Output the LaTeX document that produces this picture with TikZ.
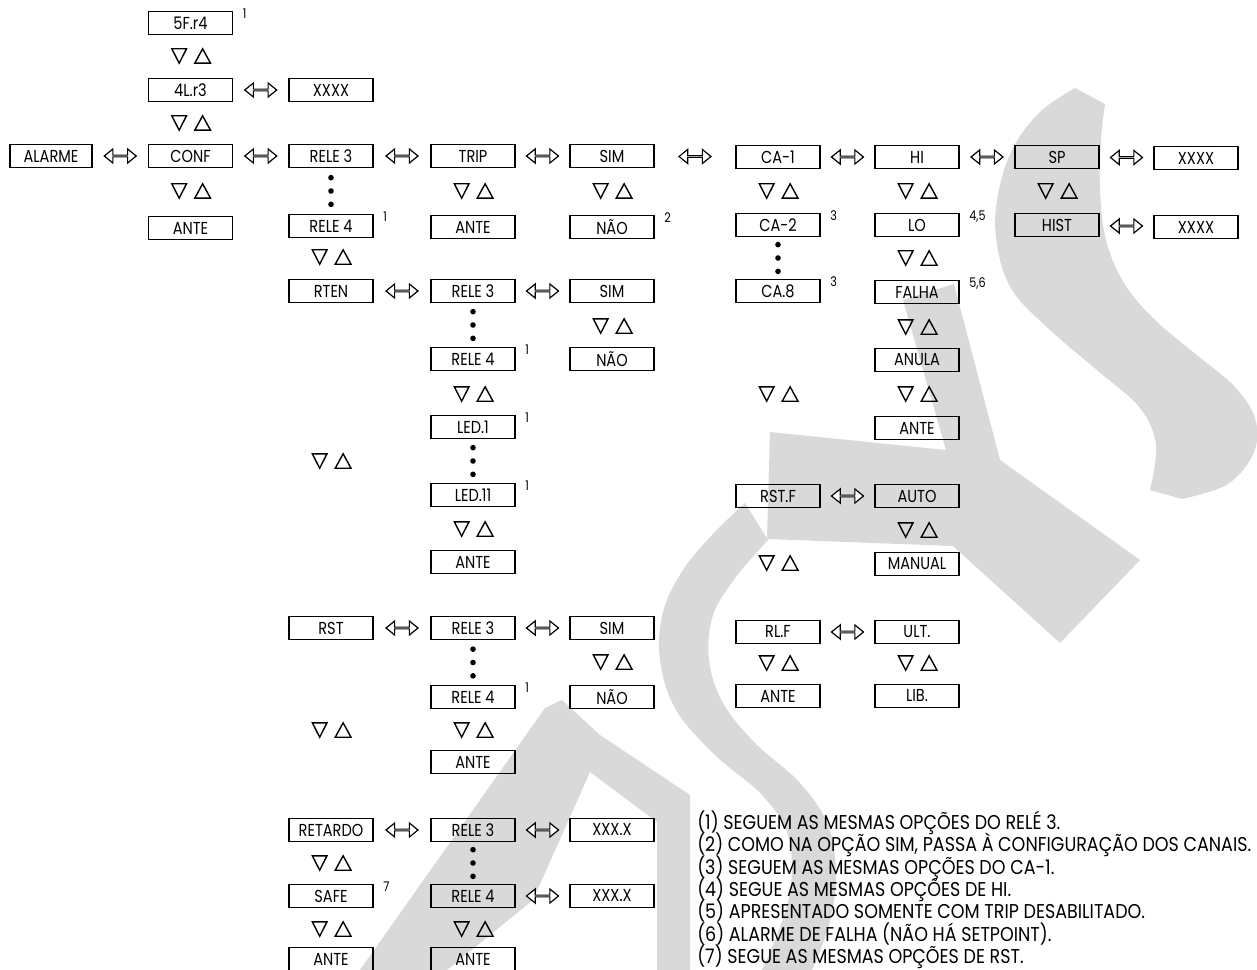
\documentclass[tikz,border=0pt]{standalone}
\usepackage{fontspec}
\setmainfont{Poppins}
\newfontfamily\boxfont{Poppins}[FakeStretch=0.84]
\newfontfamily\notefont{Poppins}[FakeStretch=0.875]
\usetikzlibrary{arrows.meta,calc,shapes.arrows}
\definecolor{wmgray}{RGB}{217,217,217}

\tikzset{
  menubox/.style={draw=black, line width=1.2pt, minimum width=63pt, minimum height=17pt,
    inner sep=0pt, font=\boxfont\fontsize{13}{13}\selectfont},
  supnote/.style={anchor=north west, inner sep=0pt, font=\boxfont\fontsize{10}{10}\selectfont},
  footline/.style={anchor=base west, inner sep=0pt, font=\notefont\fontsize{15}{15}\selectfont},
  % open two-way arrow placed midway between two boxes
  dblarrow/.style={to path={($(\tikztostart)!0.5!(\tikztotarget)$)
    node[double arrow, draw=black, fill=white, line width=0.9pt, minimum height=24pt,
         minimum width=10.5pt, double arrow head extend=3.1pt, double arrow tip angle=78,
         inner sep=0pt, anchor=center] {}}},
  navpair/.style={minimum width=34pt, minimum height=14pt, inner sep=0pt, path picture={
    \draw[line width=1.05pt, line join=miter]
      ([shift={(-14pt,5.4pt)}]path picture bounding box.center) -- ++(11pt,0pt) -- ++(-5.5pt,-10.8pt) -- cycle
      ([shift={(3.2pt,-5.4pt)}]path picture bounding box.center) -- ++(11.8pt,0pt) -- ++(-5.9pt,10.8pt) -- cycle;
  }}
}

% three dots standing between two stacked boxes
\newcommand\dotsbetween[2]{%
  \foreach \dy in {-10,0,10}{\fill ($(#1.south)!0.5!(#2.north)+(0pt,\dy pt)$) circle (2.1pt);}}

\begin{document}
\begin{tikzpicture}[x=0.75pt,y=-0.75pt]
\useasboundingbox (0,0) rectangle (1257,970);

% ---- background logo ----
\fill[wmgray] plot[smooth, tension=0.6] coordinates {(1075,88) (1040,112) (1012,150) (997,200) (997,245) (1012,290) (1050,330) (1098,371) (1140,408) (1156,445) (1150,490)}
  -- plot[smooth, tension=0.6] coordinates {(1182,499) (1228,484) (1254,452) (1255,418) (1234,386) (1198,356) (1155,320) (1124,283) (1106,240) (1100,190) (1101,140) (1105,104)}
  -- cycle;
\fill[wmgray] (770,432) -- (946,450) -- (903,300) -- (954,284) -- (1000,460) -- (1140,560)
  -- (1060,643) -- (953,546) -- (767,539) -- cycle;
\fill[wmgray] plot[smooth, tension=0.6] coordinates {(745,503) (712,535) (683,570) (663,612) (660,660) (676,710) (715,755) (762,795) (788,835) (791,885) (779,930) (762,970)}
  -- plot[smooth, tension=0.6] coordinates {(812,970) (829,925) (836,875) (828,825) (800,783) (755,743) (723,703) (709,660) (713,615) (736,577) (768,540)}
  -- cycle;
\fill[wmgray] (545,708) -- (562,700) -- (600,735) -- (690,795) -- (690,970) -- (657,970)
  -- (657,822) -- (590,772) -- (533,900) -- (447,970) -- (360,970) -- cycle;

% ---- column 0/1 ----
\node[menubox] (sfr) at (190.5,23) {5F.r4};
\node[menubox] (lrt) at (190.5,90) {4L.r3};
\node[menubox] (lrtval) at (331,90) {XXXX};
\node[menubox, minimum width=61.5pt] (alarme) at (51,156) {ALARME};
\node[menubox] (conf) at (190.5,156) {CONF};
\node[menubox] (confante) at (190.5,228) {ANTE};

% ---- column 2 ----
\node[menubox] (rthree) at (331,156) {RELE 3};
\node[menubox] (rfour) at (331,226) {RELE 4};
\node[menubox] (rten) at (331,291) {RTEN};
\node[menubox] (rst) at (331,628) {RST};
\node[menubox] (ret) at (331,830) {RETARDO};
\node[menubox] (safe) at (331,896) {SAFE};
\node[menubox] (safeante) at (331,959) {ANTE};

% ---- column 3 ----
\node[menubox] (trip) at (473,156) {TRIP};
\node[menubox] (tripante) at (473,227) {ANTE};
\node[menubox] (rtenrthree) at (473,291) {RELE 3};
\node[menubox] (rtenrfour) at (473,359) {RELE 4};
\node[menubox] (ledone) at (473,427) {LED.1};
\node[menubox] (ledeleven) at (473,495) {LED.11};
\node[menubox] (rtenante) at (473,562) {ANTE};
\node[menubox] (rstrthree) at (473,628) {RELE 3};
\node[menubox] (rstrfour) at (473,697) {RELE 4};
\node[menubox] (rstante) at (473,762) {ANTE};
\node[menubox] (retrthree) at (473,830) {RELE 3};
\node[menubox] (retrfour) at (473,896) {RELE 4};
\node[menubox] (retante) at (473,959) {ANTE};

% ---- column 4 ----
\node[menubox] (sim) at (612,156) {SIM};
\node[menubox] (nao) at (612,227) {NÃO};
\node[menubox] (rtensim) at (612,291) {SIM};
\node[menubox] (rtennao) at (612,359) {NÃO};
\node[menubox] (rstsim) at (612,628) {SIM};
\node[menubox] (rstnao) at (612,697) {NÃO};
\node[menubox] (retvthree) at (612,830) {XXX.X};
\node[menubox] (retvfour) at (612,896) {XXX.X};

% ---- column 5 ----
\node[menubox] (caone) at (778,157) {CA-1};
\node[menubox] (catwo) at (778,225) {CA-2};
\node[menubox] (caeight) at (778,291) {CA.8};
\node[menubox] (rstf) at (778,496) {RST.F};
\node[menubox] (rlf) at (778,632) {RL.F};
\node[menubox] (rlfante) at (778,696) {ANTE};

% ---- column 6 ----
\node[menubox] (hi) at (917,157) {HI};
\node[menubox] (lo) at (917,225) {LO};
\node[menubox] (falha) at (917,292) {FALHA};
\node[menubox] (anula) at (917,360) {ANULA};
\node[menubox] (hiante) at (917,428) {ANTE};
\node[menubox] (auto) at (917,496) {AUTO};
\node[menubox] (manual) at (917,564) {MANUAL};
\node[menubox] (ult) at (917,632) {ULT.};
\node[menubox] (lib) at (917,696) {LIB.};

% ---- columns 7/8 ----
\node[menubox] (sp) at (1057,157) {SP};
\node[menubox] (hist) at (1057,225) {HIST};
\node[menubox] (spval) at (1196,158) {XXXX};
\node[menubox] (histval) at (1196,227) {XXXX};

% ---- note marks ----
\foreach \b/\t in {sfr/1, rfour/1, nao/2, catwo/3, lo/{4,5}, caeight/3, falha/{5,6},
                   rtenrfour/1, ledone/1, ledeleven/1, rstrfour/1, safe/7}
  \node[supnote] (sup-\b) at ([xshift=7pt,yshift=1.5pt]\b.north east) {\t};

% ---- horizontal links ----
\draw (lrt.east) to[dblarrow] (lrtval.west);
\draw (alarme.east) to[dblarrow] (conf.west);
\draw (conf.east) to[dblarrow] (rthree.west);
\draw (rthree.east) to[dblarrow] (trip.west);
\draw (trip.east) to[dblarrow] (sim.west);
\draw (sim.east) to[dblarrow] (caone.west);
\draw (caone.east) to[dblarrow] (hi.west);
\draw (hi.east) to[dblarrow] (sp.west);
\draw (sp.east) to[dblarrow] (spval.west);
\draw (hist.east) to[dblarrow] (histval.west);
\draw (rten.east) to[dblarrow] (rtenrthree.west);
\draw (rtenrthree.east) to[dblarrow] (rtensim.west);
\draw (rstf.east) to[dblarrow] (auto.west);
\draw (rst.east) to[dblarrow] (rstrthree.west);
\draw (rstrthree.east) to[dblarrow] (rstsim.west);
\draw (rlf.east) to[dblarrow] (ult.west);
\draw (ret.east) to[dblarrow] (retrthree.west);
\draw (retrthree.east) to[dblarrow] (retvthree.west);
\draw (retrfour.east) to[dblarrow] (retvfour.west);

% ---- dotted runs ----
\dotsbetween{rthree}{rfour}
\dotsbetween{catwo}{caeight}
\dotsbetween{rtenrthree}{rtenrfour}
\dotsbetween{ledone}{ledeleven}
\dotsbetween{rstrthree}{rstrfour}
\dotsbetween{retrthree}{retrfour}

% ---- up/down keys ----
\foreach \n/\x/\y in {
  ka/190.5/56, kb/190.5/123, kc/190.5/191,
  kd/331/257, ke/331/461, kf/331/730, kg/331/863, kh/331/929,
  ki/473/191, kj/473/394, kk/473/529, kl/473/730, km/473/929,
  kn/612/191, ko/612/326, kp/612/662,
  kq/778/191, kr/778/394, ks/778/563, kt/778/663,
  ku/917/191, kv/917/258, kw/917/327, kx/917/394, ky/917/530, kz/917/663,
  kzz/1057/191}
  \node[navpair] (\n) at (\x,\y) {};

% ---- notes ----
\node[footline] (fa) at (697,829.5) {(1) SEGUEM AS MESMAS OPÇÕES DO RELÉ 3.};
\node[footline] (fb) at (697,851.8) {(2) COMO NA OPÇÃO SIM, PASSA À CONFIGURAÇÃO DOS CANAIS.};
\node[footline] (fc) at (697,874.1) {(3) SEGUEM AS MESMAS OPÇÕES DO CA-1.};
\node[footline] (fd) at (697,896.4) {(4) SEGUE AS MESMAS OPÇÕES DE HI.};
\node[footline] (fe) at (697,918.7) {(5) APRESENTADO SOMENTE COM TRIP DESABILITADO.};
\node[footline] (ff) at (697,941.0) {(6) ALARME DE FALHA (NÃO HÁ SETPOINT).};
\node[footline] (fg) at (697,963.3) {(7) SEGUE AS MESMAS OPÇÕES DE RST.};
\end{tikzpicture}
\end{document}
